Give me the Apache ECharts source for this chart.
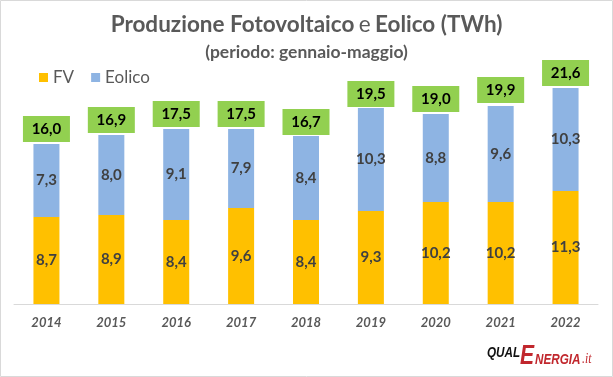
<!DOCTYPE html>
<html>
<head>
<meta charset="utf-8">
<script src="https://cdn.jsdelivr.net/npm/echarts@6/dist/echarts.min.js"></script>
<style>
  html, body { margin: 0; padding: 0; background: #fff; }
  #chart { width: 613px; height: 377px; }
</style>
</head>
<body>
<div id="chart"></div>
<script>
const years = ['2014', '2015', '2016', '2017', '2018', '2019', '2020', '2021', '2022']
const fv = [8.7, 8.9, 8.4, 9.6, 8.4, 9.3, 10.2, 10.2, 11.3]
const eolico = [7.3, 8.0, 9.1, 7.9, 8.4, 10.3, 8.8, 9.6, 10.3]
const totali = [16.0, 16.9, 17.5, 17.5, 16.7, 19.5, 19.0, 19.9, 21.6]

const fontFamily = 'Lato, "Open Sans", sans-serif'
const grigio = '#595959'
const rosso = '#c1272d'
const logoFont = '"Liberation Sans", Arial, sans-serif'

// formato italiano con virgola
const fmt = v => v.toFixed(1).replace('.', ',')

// pezzo del logo QualEnergia, compresso in larghezza
const logoPart = (x, y, text, font, fill) => ({
  type: 'text',
  x, y,
  scaleX: 0.78,
  silent: true,
  style: { text, font, fill, verticalAlign: 'middle' }
})

const chart = echarts.init(document.getElementById('chart'))

chart.setOption({
  animation: false,
  textStyle: { fontFamily },
  title: {
    text: '{b|Produzione Fotovoltaico} {n|e} {b|Eolico (TWh)}',
    subtext: '(periodo: gennaio-maggio)',
    left: 'center',
    top: 8,
    itemGap: 7,
    textStyle: {
      rich: {
        b: { fontSize: 22.5, fontWeight: 'bold', color: grigio, fontFamily },
        n: { fontSize: 22.5, fontWeight: 'normal', color: grigio, fontFamily }
      }
    },
    subtextStyle: { fontSize: 17.5, fontWeight: 'bold', color: grigio, fontFamily }
  },
  legend: {
    left: 34,
    top: 64,
    itemWidth: 9,
    itemHeight: 9,
    itemGap: 17,
    icon: 'rect',
    data: ['FV', 'Eolico'],
    textStyle: { fontSize: 17, color: grigio, fontFamily }
  },
  grid: { left: 14, right: 15, top: 54, bottom: 73 },
  xAxis: {
    type: 'category',
    data: years,
    axisLine: { lineStyle: { color: '#d9d9d9' } },
    axisTick: { show: false },
    axisLabel: {
      fontSize: 13,
      fontWeight: 'bold',
      fontStyle: 'italic',
      color: grigio,
      margin: 12
    }
  },
  yAxis: {
    type: 'value',
    min: 0,
    max: 25,
    show: false,
    splitLine: { show: false }
  },
  graphic: [
    {
      type: 'rect',
      shape: { x: 0.5, y: 0.5, width: 612, height: 376 },
      style: { fill: 'none', stroke: '#d9d9d9', lineWidth: 1 },
      silent: true
    },
    logoPart(487, 353, 'QUAL', 'italic bold 15px ' + logoFont, '#111'),
    logoPart(520, 357, 'E', 'italic bold 27px ' + logoFont, rosso),
    logoPart(535, 359.5, 'NERGIA', 'italic bold 15px ' + logoFont, rosso),
    logoPart(582, 359.5, '.it', 'italic 15px "Liberation Serif", serif', rosso)
  ],
  series: [
    {
      name: 'FV',
      type: 'bar',
      stack: 'tot',
      barWidth: 26,
      data: fv,
      itemStyle: { color: '#FFC000' },
      label: {
        show: true,
        position: 'inside',
        fontSize: 15,
        fontWeight: 'bold',
        color: '#404040',
        formatter: p => fmt(p.value)
      }
    },
    {
      name: 'Eolico',
      type: 'bar',
      stack: 'tot',
      barWidth: 26,
      data: eolico,
      itemStyle: { color: '#8EB4E3' },
      label: {
        show: true,
        position: 'inside',
        fontSize: 15,
        fontWeight: 'bold',
        color: '#404040',
        formatter: p => fmt(p.value)
      }
    },
    {
      name: 'Totale',
      type: 'scatter',
      data: totali,
      symbol: 'rect',
      symbolSize: [47, 26],
      symbolOffset: [0, -15],
      itemStyle: { color: '#92D050', opacity: 1 },
      label: {
        show: true,
        position: 'inside',
        fontSize: 15,
        fontWeight: 'bold',
        color: '#000',
        formatter: p => fmt(p.value)
      },
      z: 5
    }
  ]
})

window.addEventListener('resize', () => chart.resize())
</script>
</body>
</html>
